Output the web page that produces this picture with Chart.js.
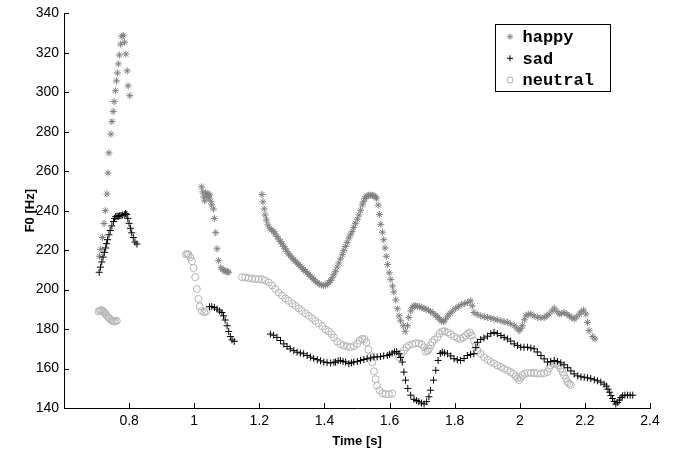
<!DOCTYPE html>
<html>
<head>
<meta charset="utf-8">
<script src="https://cdn.jsdelivr.net/npm/chart.js@4.4.0/dist/chart.umd.min.js"></script>
<style>
  html, body { margin: 0; padding: 0; background: #fff; }
</style>
</head>
<body>
<canvas id="f0Chart" width="677" height="454"></canvas>
<script>
// F0 contours (time in s, F0 in Hz)
const happyT = [
  0.709, 0.713, 0.718, 0.723, 0.727, 0.732, 0.735, 0.738, 0.744, 0.747, 0.751, 0.754, 0.758, 0.761, 0.764,
  0.767, 0.770, 0.774, 0.778, 0.782, 0.786, 0.790, 0.794, 0.797, 0.802,
  1.023, 1.026, 1.029, 1.032, 1.035, 1.039, 1.042, 1.045, 1.048, 1.051, 1.054, 1.059, 1.062, 1.066, 1.070,
  1.075, 1.082, 1.088, 1.092, 1.097, 1.102, 1.106,
  1.208, 1.211, 1.215, 1.218, 1.222, 1.226, 1.232, 1.238, 1.244, 1.249, 1.254, 1.259, 1.265, 1.270, 1.275,
  1.280, 1.285, 1.290, 1.295, 1.301, 1.306, 1.311, 1.316, 1.321, 1.326, 1.331, 1.336, 1.342, 1.347, 1.352,
  1.357, 1.362, 1.367, 1.372, 1.378, 1.384, 1.390, 1.397, 1.403, 1.409, 1.413, 1.419, 1.424, 1.429, 1.434,
  1.439, 1.444, 1.449, 1.455, 1.459, 1.465, 1.470, 1.475, 1.480, 1.485, 1.490, 1.495, 1.501, 1.506, 1.511,
  1.516, 1.520, 1.524, 1.528, 1.531, 1.536, 1.542, 1.547, 1.552, 1.557, 1.560,
  1.565, 1.569, 1.573, 1.578, 1.582, 1.586, 1.590, 1.594, 1.599, 1.604, 1.609, 1.613, 1.619, 1.624, 1.629,
  1.634, 1.642, 1.648, 1.655, 1.659, 1.665, 1.670, 1.675, 1.680, 1.686, 1.692, 1.699, 1.706, 1.712, 1.720,
  1.726, 1.734, 1.742, 1.748, 1.754, 1.760, 1.766, 1.772, 1.779, 1.786, 1.794, 1.803, 1.812, 1.822, 1.831,
  1.840, 1.849, 1.854, 1.859, 1.869, 1.880, 1.891, 1.901, 1.911, 1.921, 1.931, 1.942, 1.952, 1.962, 1.972,
  1.983, 1.991, 1.998, 2.003, 2.008, 2.014, 2.019, 2.026, 2.034, 2.044, 2.055, 2.065, 2.075, 2.083, 2.090,
  2.099, 2.106, 2.114, 2.121, 2.129, 2.136, 2.145, 2.152, 2.160, 2.167, 2.175, 2.183, 2.189, 2.196, 2.203,
  2.208, 2.213, 2.224, 2.231
];
const happyF = [
  216.9, 220.4, 226.4, 233.5, 240.0, 248.5, 259.1, 269.3, 278.8, 285.2, 290.3, 295.3, 300.8, 305.8, 309.8,
  314.4, 318.9, 324.4, 328.4, 328.9, 325.4, 319.4, 310.9, 303.3, 298.3,
  252.1, 249.5, 247.0, 245.0, 249.0, 247.5, 248.8, 246.5, 248.0, 244.8, 243.0, 240.9, 236.1, 228.9, 220.7,
  214.7, 211.1, 210.1, 209.6, 209.3, 209.1, 208.8,
  248.2, 244.5, 240.9, 237.8, 235.3, 232.8, 231.1, 230.2, 229.4, 228.2, 226.9, 225.7, 224.4, 223.2, 221.9,
  220.7, 219.4, 218.1, 217.1, 216.0, 215.2, 214.4, 213.5, 212.7, 211.9, 211.0, 210.2, 209.3, 208.5, 207.7,
  206.8, 206.0, 205.2, 204.3, 203.5, 202.8, 202.3, 202.1, 202.3, 202.8, 203.5, 204.6, 206.0, 207.6, 209.3,
  211.4, 213.5, 215.6, 217.7, 219.9, 221.9, 223.9, 226.1, 227.8, 229.4, 231.5, 233.6, 235.7, 237.8, 240.2,
  242.9, 244.5, 246.2, 247.0, 247.5, 247.8, 247.9, 247.8, 247.5, 247.0, 246.3,
  242.9, 238.1, 233.1, 229.1, 225.3, 221.1, 216.9, 212.7, 208.5, 205.2, 201.8, 198.8, 194.8, 190.3, 186.7,
  184.2, 181.7, 178.9, 181.7, 185.9, 189.2, 191.0, 191.8, 191.8, 191.5, 191.3, 191.0, 190.5, 190.0, 189.5,
  188.9, 188.0, 187.0, 186.0, 185.0, 184.0, 183.7, 185.0, 186.7, 188.0, 189.2, 190.5, 191.5, 192.5, 193.0,
  193.5, 194.3, 191.8, 188.4, 187.5, 186.7, 186.2, 185.9, 185.5, 185.1, 184.7, 184.2, 183.7, 183.4, 182.7,
  181.7, 180.5, 179.2, 180.2, 181.7, 184.7, 186.7, 187.5, 187.6, 186.7, 185.9, 185.7, 185.9, 186.7, 187.6,
  189.2, 190.6, 189.0, 187.6, 188.0, 188.4, 187.5, 186.7, 185.7, 185.1, 186.2, 187.6, 188.7, 189.6, 187.6,
  183.4, 179.2, 176.2, 175.0
];

const sadT = [
  0.708, 0.712, 0.716, 0.720, 0.724, 0.728, 0.731, 0.734, 0.738, 0.742, 0.747, 0.752, 0.755, 0.759, 0.763,
  0.767, 0.771, 0.775, 0.779, 0.785, 0.789, 0.793, 0.796, 0.800, 0.804, 0.808, 0.813, 0.818, 0.824,
  1.047, 1.054, 1.062, 1.070, 1.078, 1.085, 1.090, 1.095, 1.101, 1.106, 1.111, 1.116, 1.123,
  1.234, 1.244, 1.254, 1.265, 1.275, 1.285, 1.295, 1.306, 1.316, 1.326, 1.336, 1.347, 1.357, 1.367, 1.378,
  1.388, 1.398, 1.408, 1.419, 1.429, 1.434, 1.442, 1.449, 1.457, 1.465, 1.475, 1.483, 1.490, 1.501, 1.511,
  1.521, 1.531, 1.542, 1.552, 1.562, 1.572, 1.582, 1.593, 1.600, 1.608, 1.615, 1.622, 1.629, 1.634, 1.639,
  1.644, 1.649, 1.656, 1.665, 1.675, 1.683, 1.690, 1.698, 1.706, 1.714, 1.721, 1.726, 1.735, 1.742, 1.749,
  1.756, 1.762, 1.769, 1.778, 1.788, 1.798, 1.808, 1.818, 1.829, 1.839, 1.849, 1.859, 1.865, 1.870, 1.880,
  1.890, 1.901, 1.911, 1.921, 1.931, 1.942, 1.952, 1.962, 1.972, 1.983, 1.993, 2.003, 2.013, 2.024, 2.034,
  2.044, 2.054, 2.065, 2.075, 2.085, 2.095, 2.106, 2.116, 2.126, 2.136, 2.147, 2.157, 2.167, 2.178, 2.188,
  2.198, 2.208, 2.218, 2.229, 2.239, 2.249, 2.259, 2.266, 2.271, 2.276, 2.280, 2.285, 2.290, 2.295, 2.301,
  2.306, 2.311, 2.316, 2.323, 2.331, 2.339, 2.347
];
const sadF = [
  208.8, 211.4, 214.0, 216.5, 218.9, 221.1, 223.3, 225.3, 227.8, 230.0, 232.3, 234.5, 236.1, 237.0, 237.3,
  237.1, 237.5, 237.5, 237.8, 238.1, 238.6, 238.1, 236.1, 233.6, 231.1, 228.8, 226.4, 224.1, 223.1,
  191.3, 191.4, 190.9, 190.1, 189.2, 188.4, 186.7, 184.6, 181.7, 178.8, 176.2, 174.5, 173.8,
  177.5, 176.9, 175.8, 174.2, 172.5, 171.2, 170.0, 169.1, 168.3, 167.9, 167.5, 166.6, 165.8, 165.1, 164.5,
  163.9, 163.3, 163.0, 162.8, 163.1, 163.3, 163.9, 164.1, 163.6, 163.3, 162.5, 162.9, 163.3, 163.6, 164.1,
  164.6, 165.0, 165.4, 165.8, 165.9, 166.1, 166.4, 166.6, 167.1, 167.8, 168.4, 168.6, 167.5, 165.6, 163.3,
  158.2, 154.1, 149.9, 146.5, 144.4, 143.8, 143.2, 142.5, 142.0, 143.2, 145.7, 149.0, 154.1, 159.1, 164.1,
  167.6, 168.3, 167.9, 167.5, 166.4, 165.0, 164.4, 164.1, 165.1, 166.6, 167.1, 167.5, 170.7, 173.3, 174.7,
  175.5, 176.4, 177.7, 178.3, 177.7, 176.7, 175.8, 175.0, 173.9, 172.5, 171.7, 170.8, 170.8, 170.8, 170.4,
  170.0, 168.4, 166.6, 164.9, 163.3, 163.6, 164.1, 163.6, 162.9, 161.9, 160.4, 158.8, 157.3, 156.3, 155.8,
  155.6, 155.3, 154.9, 154.3, 153.8, 153.1, 152.1, 151.1, 149.5, 148.0, 146.3, 144.8, 143.3, 142.0, 142.8,
  144.0, 145.3, 146.2, 146.5, 146.5, 146.5, 146.5
];

const neutralT = [
  0.706, 0.710, 0.714, 0.718, 0.721, 0.725, 0.728, 0.732, 0.736, 0.740, 0.745, 0.749, 0.753, 0.757, 0.762,
  0.975, 0.979, 0.983, 0.988, 0.993, 0.998, 1.003, 1.008, 1.013, 1.017, 1.023, 1.031, 1.037,
  1.147, 1.157, 1.167, 1.178, 1.188, 1.198, 1.208, 1.218, 1.229, 1.239, 1.249, 1.259, 1.270, 1.280, 1.290,
  1.301, 1.311, 1.321, 1.331, 1.342, 1.352, 1.362, 1.372, 1.382, 1.393, 1.403, 1.413, 1.422, 1.429, 1.439,
  1.449, 1.459, 1.470, 1.480, 1.490, 1.501, 1.508, 1.516, 1.523, 1.529, 1.535, 1.542, 1.547, 1.552, 1.557,
  1.562, 1.569, 1.578, 1.588, 1.598, 1.608,
  1.629, 1.637, 1.644, 1.652, 1.659, 1.670, 1.680, 1.690, 1.699, 1.706, 1.711, 1.717, 1.721, 1.726, 1.731,
  1.738, 1.747, 1.754, 1.762, 1.769, 1.778, 1.788, 1.798, 1.808, 1.818, 1.826, 1.834, 1.840, 1.847, 1.852,
  1.859, 1.865, 1.870, 1.880, 1.890, 1.901, 1.911, 1.921, 1.931, 1.942, 1.952, 1.962, 1.972, 1.980, 1.988,
  1.993, 1.998, 2.003, 2.008, 2.015, 2.024, 2.034, 2.044, 2.054, 2.065, 2.075, 2.085, 2.090, 2.095, 2.103,
  2.111, 2.118, 2.126, 2.131, 2.136, 2.142, 2.147, 2.152, 2.157
];
const neutralF = [
  188.9, 189.4, 189.6, 189.3, 188.9, 188.3, 187.6, 186.7, 185.9, 185.2, 184.6, 184.1, 183.9, 183.9, 184.2,
  217.9, 218.1, 217.6, 216.4, 214.4, 211.0, 206.3, 200.3, 195.3, 191.5, 189.2, 188.5, 189.0,
  206.3, 206.1, 205.8, 205.6, 205.4, 205.3, 205.2, 204.6, 203.6, 202.1, 200.3, 198.5, 197.0, 195.5, 194.3,
  193.0, 191.8, 190.5, 189.2, 188.0, 186.7, 185.5, 184.2, 183.0, 181.5, 179.9, 178.9, 177.4, 175.7, 173.7,
  172.4, 171.7, 171.2, 170.8, 171.4, 172.5, 174.2, 175.0, 174.9, 173.2, 169.6, 166.1, 163.1, 158.6, 154.6,
  151.3, 149.0, 147.5, 147.0, 147.0, 147.4,
  165.8, 167.6, 169.1, 170.7, 171.7, 172.4, 172.8, 172.8, 172.2, 170.8, 168.6, 169.1, 170.0, 171.7, 173.3,
  174.7, 175.9, 177.7, 178.9, 178.9, 178.3, 177.4, 176.2, 175.4, 175.0, 175.7, 176.7, 177.7, 178.3, 176.7,
  174.2, 171.7, 169.1, 167.4, 165.8, 164.4, 163.3, 162.5, 161.6, 160.8, 159.9, 159.1, 158.2, 157.3, 156.1,
  155.1, 154.1, 155.3, 156.6, 157.3, 157.7, 157.8, 157.7, 157.6, 157.4, 157.7, 158.2, 160.1, 161.6, 162.4,
  162.5, 161.6, 159.9, 158.3, 156.6, 154.8, 153.2, 152.3, 151.6
];

const xTicks = [0.8, 1, 1.2, 1.4, 1.6, 1.8, 2, 2.2, 2.4];
const yTicks = [140, 160, 180, 200, 220, 240, 260, 280, 300, 320, 340];
const legendLabels = ['happy', 'sad', 'neutral'];

function toPoints(ts, fs) {
  return ts.map((t, i) => ({ x: t, y: fs[i] }));
}

const sansFont = "'Liberation Sans', Arial, Helvetica, sans-serif";

// Matlab style ticks pointing into the plot
const innerTicks = {
  id: 'innerTicks',
  afterDraw(chart) {
    const { ctx, chartArea, scales } = chart;
    ctx.save();
    ctx.strokeStyle = '#000';
    ctx.lineWidth = 1;
    ctx.beginPath();
    xTicks.forEach(v => {
      const px = Math.round(scales.x.getPixelForValue(v)) + 0.5;
      ctx.moveTo(px, chartArea.bottom);
      ctx.lineTo(px, chartArea.bottom - 5);
    });
    yTicks.forEach(v => {
      const py = Math.round(scales.y.getPixelForValue(v)) + 0.5;
      ctx.moveTo(chartArea.left, py);
      ctx.lineTo(chartArea.left + 5, py);
    });
    ctx.stroke();
    ctx.restore();
  }
};

// boxed legend in the upper right corner
const boxLegend = {
  id: 'boxLegend',
  afterDraw(chart) {
    const ctx = chart.ctx;
    const box = { x: 495.5, y: 24.5, w: 115, h: 67 };
    ctx.save();
    ctx.fillStyle = '#fff';
    ctx.fillRect(box.x, box.y, box.w, box.h);
    ctx.strokeStyle = '#000';
    ctx.lineWidth = 1;
    ctx.strokeRect(box.x, box.y, box.w, box.h);
    const rows = [36.7, 58.3, 80];
    legendLabels.forEach((label, i) => {
      const ds = chart.data.datasets.find(d => d.label === label);
      ctx.strokeStyle = ds.borderColor;
      ctx.fillStyle = ds.backgroundColor;
      ctx.lineWidth = 1;
      Chart.helpers.drawPoint(ctx, { pointStyle: ds.pointStyle, radius: 3, rotation: 0, borderWidth: 1 }, 510, rows[i]);
      ctx.fillStyle = '#000';
      ctx.font = "bold 17px 'Liberation Mono', 'Courier New', monospace";
      ctx.textBaseline = 'middle';
      ctx.textAlign = 'left';
      ctx.fillText(label, 522.5, rows[i] + 1);
    });
    ctx.restore();
  }
};

new Chart(document.getElementById('f0Chart').getContext('2d'), {
  type: 'scatter',
  data: {
    datasets: [
      { label: 'sad', data: toPoints(sadT, sadF), pointStyle: 'cross', pointRadius: 3.5,
        borderColor: '#000', backgroundColor: '#000', pointBorderWidth: 1 },
      { label: 'happy', data: toPoints(happyT, happyF), pointStyle: 'star', pointRadius: 3.5,
        borderColor: '#808080', backgroundColor: '#808080', pointBorderWidth: 1 },
      { label: 'neutral', data: toPoints(neutralT, neutralF), pointStyle: 'circle', pointRadius: 3.5,
        borderColor: '#b4b4b4', backgroundColor: 'rgba(0,0,0,0)', pointBorderWidth: 1 }
    ]
  },
  options: {
    responsive: false,
    animation: false,
    layout: { padding: { left: 0, right: 27, top: 10, bottom: 0 } },
    plugins: {
      legend: { display: false },
      tooltip: { enabled: false }
    },
    scales: {
      x: {
        type: 'linear',
        min: 0.6,
        max: 2.4,
        afterBuildTicks: s => { s.ticks = xTicks.map(v => ({ value: v })); },
        afterFit: s => { s.height = 46; },
        grid: { display: false, drawTicks: false },
        border: { display: true, color: '#000', width: 1 },
        ticks: { color: '#000', padding: 5, font: { family: sansFont, size: 14 }, callback: v => String(v) },
        title: { display: true, text: 'Time [s]', color: '#000', padding: { top: 0, bottom: 5 },
                 font: { family: sansFont, size: 13, weight: 'bold' } }
      },
      y: {
        min: 140,
        max: 340,
        afterBuildTicks: s => { s.ticks = yTicks.map(v => ({ value: v })); },
        afterFit: s => { s.width = 64; },
        grid: { display: false, drawTicks: false },
        border: { display: true, color: '#000', width: 1 },
        ticks: { color: '#000', padding: 5, font: { family: sansFont, size: 14 } },
        title: { display: true, text: 'F0 [Hz]', color: '#000', padding: { top: 23, bottom: 0 },
                 font: { family: sansFont, size: 13, weight: 'bold' } }
      }
    }
  },
  plugins: [innerTicks, boxLegend]
});
</script>
</body>
</html>
